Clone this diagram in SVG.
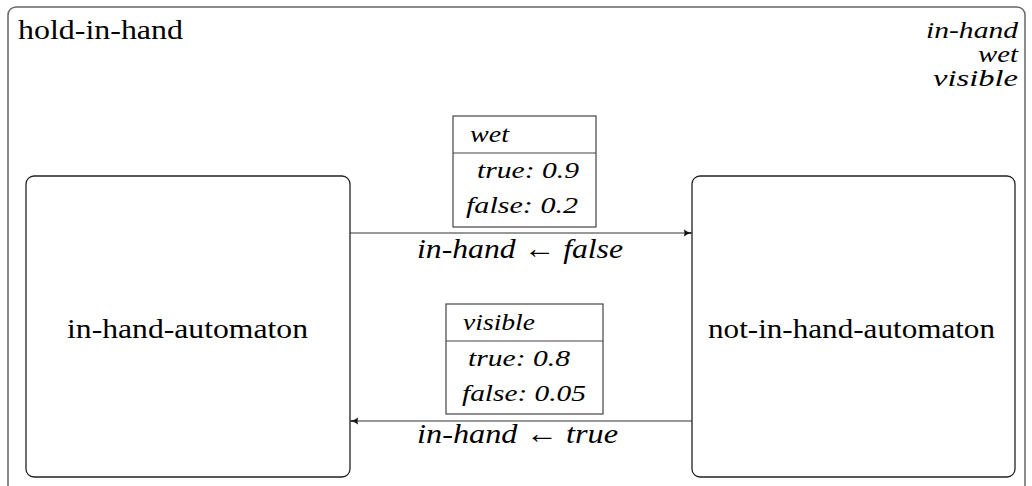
<svg xmlns="http://www.w3.org/2000/svg" width="1032" height="486" viewBox="0 0 1032 486">
<style>
text{font-family:"Liberation Serif","Times New Roman",serif;fill:#000}
.it{font-style:italic}
.frame{fill:none;stroke:#666;stroke-width:1.5}
.box{fill:#fff;stroke:#222;stroke-width:1.3}
.tbl{fill:#fff;stroke:#444;stroke-width:1.2}
.edge{fill:none;stroke:#333;stroke-width:1.2}
</style>
<defs>
<marker id="ah" viewBox="0 0 10 10" refX="9" refY="5" markerWidth="8" markerHeight="8" markerUnits="userSpaceOnUse" orient="auto">
<path d="M0,1 Q5,5 10,5 Q5,5 0,9 Q3,5 0,1 Z" fill="#111" stroke="#111" stroke-width="0.8"/>
</marker>
</defs>
<rect width="1032" height="486" fill="#fff"/>
<g id="hold-in-hand">
<rect class="frame" x="8" y="7" width="1017" height="500" rx="8"/>
<text x="18" y="39" font-size="27" textLength="165" lengthAdjust="spacingAndGlyphs">hold-in-hand</text>
<text class="it" x="926" y="38" font-size="23" textLength="92" lengthAdjust="spacingAndGlyphs">in-hand</text>
<text class="it" x="978" y="62" font-size="23" textLength="40" lengthAdjust="spacingAndGlyphs">wet</text>
<text class="it" x="933" y="86" font-size="23" textLength="85" lengthAdjust="spacingAndGlyphs">visible</text>
</g>
<g id="in-hand-automaton">
<rect class="box" x="26" y="176" width="324" height="301" rx="8"/>
<text x="67" y="338" font-size="28" textLength="241" lengthAdjust="spacingAndGlyphs">in-hand-automaton</text>
</g>
<g id="not-in-hand-automaton">
<rect class="box" x="692" y="176" width="323" height="301" rx="8"/>
<text x="708" y="338" font-size="28" textLength="287" lengthAdjust="spacingAndGlyphs">not-in-hand-automaton</text>
</g>
<g id="connectors">
<line class="edge" x1="350" y1="233" x2="691" y2="233" marker-end="url(#ah)"/>
<text class="it" x="417" y="258" font-size="28" textLength="206" lengthAdjust="spacingAndGlyphs">in-hand ← false</text>
<line class="edge" x1="692" y1="421" x2="351" y2="421" marker-end="url(#ah)"/>
<text class="it" x="417" y="443" font-size="28" textLength="201" lengthAdjust="spacingAndGlyphs">in-hand ← true</text>
</g>
<g id="wet-table">
<rect class="tbl" x="453" y="116" width="143" height="111"/>
<line class="tbl" x1="453" y1="153" x2="596" y2="153"/>
<text class="it" x="470" y="142" font-size="24" textLength="39" lengthAdjust="spacingAndGlyphs">wet</text>
<text class="it" x="477" y="178" font-size="24" textLength="102" lengthAdjust="spacingAndGlyphs">true: 0.9</text>
<text class="it" x="466" y="213" font-size="24" textLength="112" lengthAdjust="spacingAndGlyphs">false: 0.2</text>
</g>
<g id="visible-table">
<rect class="tbl" x="446" y="304" width="157" height="110"/>
<line class="tbl" x1="446" y1="341" x2="603" y2="341"/>
<text class="it" x="463" y="330" font-size="24" textLength="72" lengthAdjust="spacingAndGlyphs">visible</text>
<text class="it" x="468" y="366" font-size="24" textLength="102" lengthAdjust="spacingAndGlyphs">true: 0.8</text>
<text class="it" x="462" y="401" font-size="24" textLength="124" lengthAdjust="spacingAndGlyphs">false: 0.05</text>
</g>
</svg>
